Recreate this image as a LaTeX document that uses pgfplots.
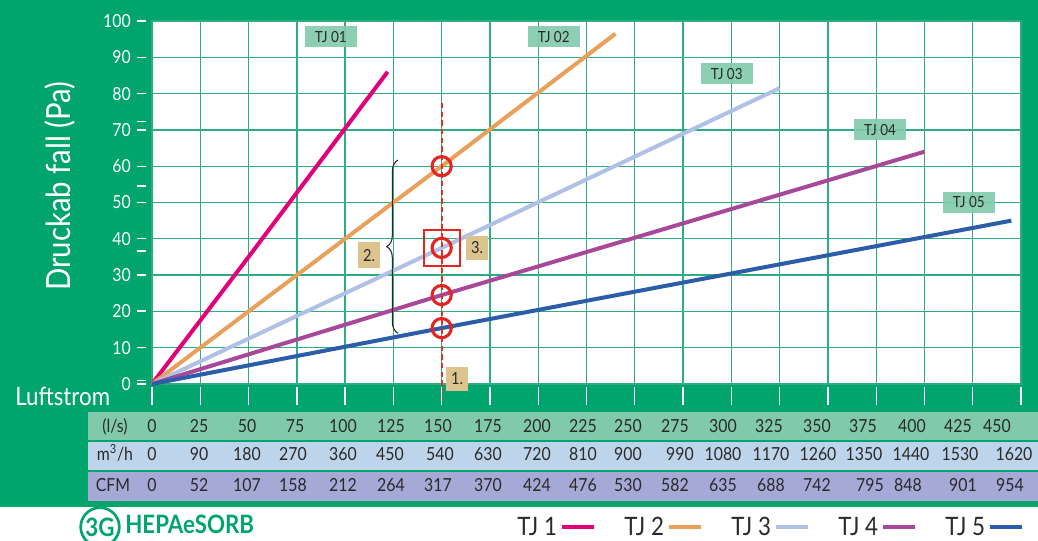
\documentclass[border=0pt]{standalone}
\usepackage{fontspec}
\setmainfont{Lato}[FakeStretch=0.88]
\usepackage{pgfplots}
\pgfplotsset{compat=1.18}
\usetikzlibrary{decorations.pathreplacing}

\definecolor{bggreen}{HTML}{00A56D}
\definecolor{gridgreen}{HTML}{30AD80}
\definecolor{rowA}{HTML}{80CAAB}
\definecolor{rowB}{HTML}{BDD4EA}
\definecolor{rowC}{HTML}{A6A8D6}
\definecolor{tjbox}{HTML}{80CAAB}
\definecolor{tanbox}{HTML}{DCC48E}
\definecolor{tjA}{HTML}{E2007A}
\definecolor{tjB}{HTML}{E8A05A}
\definecolor{tjC}{HTML}{AFC1E5}
\definecolor{tjD}{HTML}{A7489B}
\definecolor{tjE}{HTML}{2B5DA8}
\definecolor{mkred}{HTML}{E52421}
\definecolor{dashred}{HTML}{D8342A}
\definecolor{txt}{HTML}{2A2A2A}

\newcommand{\tabfont}{\fontsize{13.5}{14}\selectfont}

\begin{document}
\begin{tikzpicture}[x=0.75pt,y=0.75pt]
% 1 unit = 1 px of the reference, origin bottom left
\useasboundingbox (0,0) rectangle (1038,540);
% background and table rows
\fill[bggreen] (0,0) rectangle (1038,540);
\fill[white] (0,0) rectangle (1038,33);
\fill[rowA] (88,100) rectangle (1038,128);
\fill[rowB] (88,70) rectangle (1038,98);
\fill[rowC] (88,39) rectangle (1038,68);

\begin{axis}[
  at={(114pt,117pt)}, anchor=south west,
  scale only axis, width=651.75pt, height=272.25pt,
  xmin=0, xmax=450, ymin=0, ymax=100,
  xtick={0,25,...,450}, ytick={0,10,...,100},
  xticklabels={},
  grid=major,
  major grid style={gridgreen, line width=1pt},
  axis line style={gridgreen, line width=1pt},
  major tick length=0pt,
  axis background/.style={fill=white},
  yticklabel style={text=white, font=\tabfont, inner sep=0pt, xshift=-15.75pt},
  /pgf/number format/assume math mode=true,
  clip=false,
  legend plot pos=right,
  legend image code/.code={\draw[#1] (0pt,0pt) -- (24pt,0pt);},
  legend style={at={(axis description cs:0.417,-0.394)}, anchor=west,
    draw=none, fill=none, inner sep=0pt, legend columns=-1,
    font=\fontsize{19}{20}\selectfont, text=txt,
    nodes={inner sep=2pt},
    /tikz/every even column/.append style={column sep=19.5pt}},
]
% --- TJ lines -------------------------------------------
\addplot[tjA, line width=3pt] coordinates {(0,0) (50,35) (122,86)};
\addplot[tjB, line width=3pt] coordinates {(0,0) (150,60) (240,96.5)};
\addplot[tjC, line width=3pt] coordinates {(0,0) (150,37.5) (325,81.5)};
\addplot[tjD, line width=3pt] coordinates {(0,0) (150,24.5) (400,64)};
\addplot[tjE, line width=3pt] coordinates {(0,0) (150,15.4) (445,45)};
\legend{TJ 1, TJ 2, TJ 3, TJ 4, TJ 5}

% --- reading example at 150 l/s --------------------------
\addplot[dashred, line width=1.3pt, dash pattern=on 4pt off 2.5pt, forget plot]
  coordinates {(150,77.4) (150,-4.4)};
\addplot[only marks, mark=o, mark size=7.2pt, mkred,
  mark options={line width=2.3pt}, forget plot]
  coordinates {(150,60) (150,37.5) (150,24.5) (150,15.4)};
\addplot[only marks, mark=square, mark size=13.5pt, mkred,
  mark options={line width=1.5pt}, forget plot]
  coordinates {(150,37.6)};

\draw[decorate, decoration={brace, amplitude=8.5pt}, txt, line width=0.8pt]
  (axis cs:127.4,14) -- (axis cs:127.4,61.7);

% --- labels ---------------------------------------------
\tikzset{tjlab/.style={fill=tjbox, fill opacity=0.9, text opacity=1, text=txt,
  minimum width=39pt, minimum height=15.75pt, inner sep=0pt,
  font=\fontsize{11.5}{12}\selectfont},
  numlab/.style={fill=tanbox, text=txt, minimum width=17pt, minimum height=18pt,
  inner sep=0pt, font=\fontsize{12.5}{13}\selectfont}}
\node[tjlab] at (axis cs:92.6,95.6) {TJ 01};
\node[tjlab] at (axis cs:208,95.6) {TJ 02};
\node[tjlab] at (axis cs:297.6,85.4) {TJ 03};
\node[tjlab] at (axis cs:377,70) {TJ 04};
\node[tjlab] at (axis cs:423,50) {TJ 05};
\node[numlab] at (axis cs:158,1.4) {1.};
\node[numlab, minimum height=20pt] at (axis cs:112.4,35.5) {2.};
\node[numlab] at (axis cs:168.3,37.5) {3.};
\end{axis}

% --- tick dashes ----------------------------------------
\foreach \v in {0,...,10} \draw[white, line width=1pt] (137,{156+36.3*\v}) -- (146,{156+36.3*\v});
\foreach \yy in {418.3,354,289,229.3,159.5} \draw[white, line width=1pt] (137,\yy) -- (146,\yy);
\foreach \i in {0,...,18} \draw[white, line width=1pt] ({152+48.28*\i},153) -- ({152+48.28*\i},135);

% --- axis titles ----------------------------------------
\node[white, anchor=base west, inner sep=0pt, font=\fontsize{19}{20}\selectfont] at (15,135) {Luftstrom};
\node[white, rotate=90, anchor=base, inner sep=0pt, font=\fontsize{25}{26}\selectfont] at (70,354) {Druckab fall (Pa)};

% --- table ----------------------------------------------
\node[txt, anchor=base, inner sep=0pt, font=\tabfont] at (115,108) {(l/s)};
\node[txt, anchor=base, inner sep=0pt, font=\tabfont] at (115,80) {m\textsuperscript{3}/h};
\node[txt, anchor=base, inner sep=0pt, font=\tabfont] at (113,49) {CFM};
\foreach \t/\p in {0/152,25/199,50/247,75/295,100/343,125/391,150/438,175/488,200/537,225/583,250/628,275/675,300/723,325/769,350/817,375/863,400/912,425/958,450/997}
  \node[txt, anchor=base, inner sep=0pt, font=\tabfont] at (\p,108) {\t};
\foreach \t/\p in {0/152,90/199,180/247,270/293,360/343,450/390,540/440,630/488,720/537,810/583,900/628,990/680,1080/723,1170/771,1260/818,1350/864,1440/911,1530/960,1620/1014}
  \node[txt, anchor=base, inner sep=0pt, font=\tabfont] at (\p,80) {\t};
\foreach \t/\p in {0/152,52/199,107/247,158/293,212/343,264/391,317/438,370/488,424/537,476/583,530/628,582/675,635/723,688/771,742/817,795/870,848/908,901/963,954/1010}
  \node[txt, anchor=base, inner sep=0pt, font=\tabfont] at (\p,49) {\t};

% --- logo -----------------------------------------------
\draw[bggreen, line width=2pt, fill=white] (100,13) circle (14.5pt);
\node[bggreen, inner sep=0pt, font=\fontsize{19}{20}\selectfont\bfseries] at (100,13) {3G};
\node[bggreen, anchor=base west, inner sep=0pt, font=\fontsize{19}{20}\selectfont\bfseries] at (125,7) {HEPAeSORB};
\end{tikzpicture}
\end{document}
